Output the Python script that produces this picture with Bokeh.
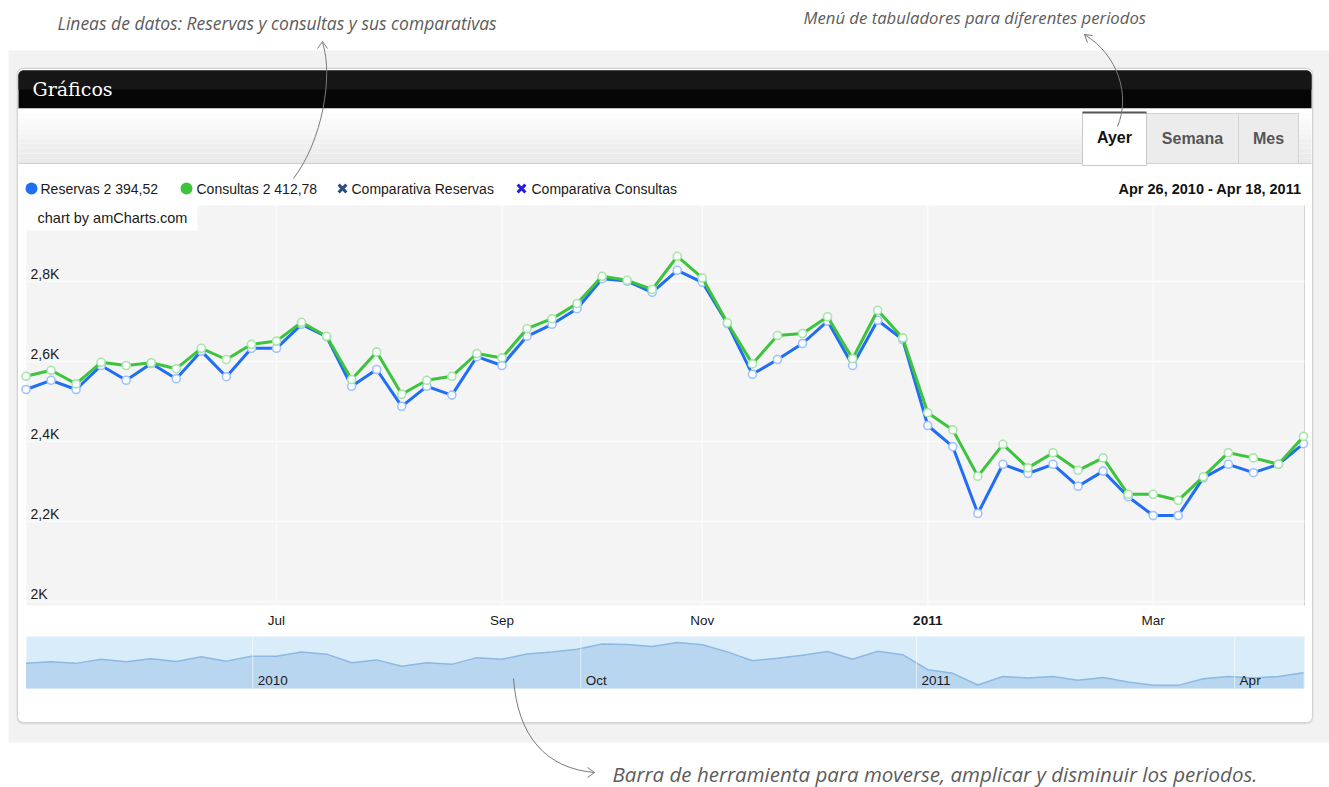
import pandas as pd
from bokeh.plotting import figure
from bokeh.models import Range1d
from bokeh.core.properties import value
from bokeh.embed import file_html
from bokeh.resources import INLINE

# ---------------- data ----------------
week_start = "2010-04-26"
reservas = [2530, 2553, 2530, 2590, 2553, 2595, 2557, 2626, 2562, 2633,
            2633, 2693, 2662, 2538, 2580, 2488, 2538, 2516, 2612, 2590,
            2663, 2693, 2732, 2807, 2801, 2773, 2828, 2798, 2695, 2568,
            2605, 2645, 2701, 2590, 2703, 2655, 2440, 2387, 2220, 2343,
            2320, 2343, 2288, 2326, 2262, 2215, 2215, 2309, 2343, 2322,
            2343, 2394.52]
consultas = [2563, 2578, 2544, 2598, 2590, 2597, 2582, 2633, 2605, 2643,
             2651, 2698, 2663, 2555, 2624, 2518, 2553, 2563, 2620, 2609,
             2682, 2707, 2745, 2813, 2803, 2780, 2863, 2809, 2697, 2594,
             2665, 2670, 2712, 2607, 2728, 2659, 2472, 2429, 2313, 2393,
             2334, 2372, 2328, 2359, 2268, 2268, 2253, 2312, 2372, 2359,
             2343, 2412.78]
y_ticks = [2000, 2200, 2400, 2600, 2800]
y_tick_labels = ["2K", "2,2K", "2,4K", "2,6K", "2,8K"]
x_tick_months = ["2010-07", "2010-09", "2010-11", "2011-01", "2011-03"]
x_tick_labels = ["Jul", "Sep", "Nov", "2011", "Mar"]
nav_tick_pos = [9.05, 22.15, 35.55, 48.25]
nav_tick_labels = ["2010", "Oct", "2011", "Apr"]
series_names = ["Reservas", "Consultas", "Comparativa Reservas", "Comparativa Consultas"]
tabs = ["Ayer", "Semana", "Mes"]
notes = ["Lineas de datos: Reservas y consultas y sus comparativas",
         "Menú de tabuladores para diferentes periodos",
         "Barra de herramienta para moverse, amplicar y disminuir los periodos."]

weeks = pd.date_range(week_start, periods=len(reservas), freq="7D")
idx = list(range(len(reservas)))
x_tick_idx = [next(i for i, d in enumerate(weeks) if d.strftime("%Y-%m") == m) for m in x_tick_months]


def fmt(v):
    return f"{v:,.2f}".replace(",", " ").replace(".", ",")


def fdate(d):
    return f"{d:%b} {d.day}, {d.year}"


# ---------------- geometry / style ----------------
W, H = 1329, 787
CX0, CX1, CY0, CY1 = 0, W, 0, H
PLOT_L, PLOT_R, PLOT_T, PLOT_B = 26, 1304, 205, 605
IDX0_PX, IDXN_PX = 25.5, 1303
Y_LO, Y_HI = 1990, 2990
NAV_T, NAV_B = 636, 688
NAV_LO, NAV_HI = 2170, 2915

BLUE, BLUE_M = "#1f6ef5", "#9fc2ff"
GREEN, GREEN_M = "#3cc43c", "#a8e6a8"
FONT = value("Liberation Sans")
HAND = value("Open Sans")


def ext_range(v1, p1, v2, p2, pa, pb):
    k = (v2 - v1) / (p2 - p1)
    return Range1d(start=v1 + (pa - p1) * k, end=v1 + (pb - p1) * k)


def px_to_idx(px):
    return (px - IDX0_PX) * (len(idx) - 1) / (IDXN_PX - IDX0_PX)


p = figure(width=W, height=H, x_range=Range1d(CX0, CX1), y_range=Range1d(CY1, CY0),
           x_axis_type=None, y_axis_type=None, output_backend="svg",
           toolbar_location=None, min_border=0, outline_line_color=None,
           background_fill_color="white", border_fill_color="white")
p.extra_x_ranges = {"cx": ext_range(0, IDX0_PX, len(idx) - 1, IDXN_PX, CX0, CX1)}
p.extra_y_ranges = {"cy": ext_range(Y_LO, PLOT_B, Y_HI, PLOT_T, CY1, CY0),
                    "ny": ext_range(NAV_LO, NAV_B, NAV_HI, NAV_T, CY1, CY0)}

# page background band and panel
p.quad(left=8, right=CX1, top=50, bottom=742, fill_color="#f2f2f2", line_color=None)
p.quad(left=16, right=1313, top=67, bottom=724, fill_color="#dedede", line_color=None, border_radius=7)
p.quad(left=17, right=1312, top=68, bottom=722, fill_color="white", line_color="#d2d2d2", border_radius=6)
# header bar
p.quad(left=18, right=1311, top=70, bottom=108, fill_color="#060606", line_color=None,
       border_radius=[5, 5, 0, 0])
p.quad(left=18, right=1311, top=70, bottom=89, fill_color="#161616", line_color=None,
       border_radius=[5, 5, 0, 0])
p.text(x=[32], y=[88], text=["Gráficos"], text_font=value("DejaVu Serif"),
       text_font_size="19px", text_color="white", text_baseline="middle")
# tab bar gradient
n_bands = 11
for b in range(n_bands):
    t = b / (n_bands - 1)
    c = int(255 - t * 22)
    p.quad(left=18, right=1311, top=108 + b * 5, bottom=108 + (b + 1) * 5,
           fill_color=f"#{c:02x}{c:02x}{c:02x}", line_color=None)
p.segment(x0=[18], x1=[1311], y0=[163], y1=[163], line_color="#cfcfcf", line_width=1)
# tabs
tab_l = [1082, 1146, 1238]
tab_r = [1146, 1238, 1298]
p.quad(left=tab_l[1:], right=tab_r[1:], top=113, bottom=163, fill_color="#ececec",
       line_color="#d2d2d2")
p.quad(left=tab_l[0], right=tab_r[0], top=112, bottom=165, fill_color="white",
       line_color="#c8c8c8")
p.segment(x0=[tab_l[0]], x1=[tab_r[0]], y0=[112], y1=[112], line_color="#555555", line_width=2)
p.text(x=[(a + b) / 2 for a, b in zip(tab_l, tab_r)], y=[137, 138, 138], text=tabs,
       text_font=FONT, text_font_style="bold", text_font_size="16px",
       text_color=["#111111", "#555555", "#555555"], text_align="center",
       text_baseline="middle")

# legend row
p.scatter(x=[31, 186], y=[188, 188], size=12, marker="circle",
          fill_color=[BLUE, GREEN], line_color=None)
p.scatter(x=[342, 521], y=[188, 188], size=11, marker="x",
          line_color=["#2c4c82", "#2222dd"], line_width=3)
p.text(x=[40, 196, 351, 531], y=[188] * 4,
       text=[f"{series_names[0]} {fmt(reservas[-1])}", f"{series_names[1]} {fmt(consultas[-1])}",
             series_names[2], series_names[3]],
       text_font=FONT, text_font_size="14px", text_color="#1a1a1a", text_baseline="middle")
p.text(x=[1301], y=[188], text=[f"{fdate(weeks[0])} - {fdate(weeks[-1])}"],
       text_font=FONT, text_font_size="14.5px", text_font_style="bold", text_color="#111111",
       text_align="right", text_baseline="middle")

# plot area
p.quad(left=PLOT_L, right=PLOT_R, top=PLOT_T, bottom=PLOT_B, fill_color="#f4f4f4",
       line_color=None)
p.segment(x0=[PLOT_R], x1=[PLOT_R], y0=[PLOT_T], y1=[PLOT_B], line_color="#d4d4d4")
xl, xr = px_to_idx(PLOT_L), px_to_idx(PLOT_R)
p.segment(x0=x_tick_idx, x1=x_tick_idx, y0=Y_LO, y1=Y_HI, line_color="#fbfbfb",
          line_width=1.5, x_range_name="cx", y_range_name="cy")
p.segment(x0=xl, x1=xr, y0=y_ticks, y1=y_ticks, line_color="#fbfbfb", line_width=1.5,
          x_range_name="cx", y_range_name="cy")
p.text(x=[xl] * len(y_ticks), y=y_ticks, text=y_tick_labels, x_offset=4,
       text_font=FONT, text_font_size="14px", text_color="#1a1a1a",
       text_baseline="bottom", x_range_name="cx", y_range_name="cy")
p.quad(left=PLOT_L, right=197, top=PLOT_T, bottom=230, fill_color="white", line_color=None)
p.text(x=[37], y=[217], text=["chart by amCharts.com"], text_font=FONT,
       text_font_size="14.5px", text_color="#1a1a1a", text_baseline="middle")

# data series
for vals, col, mc in [(reservas, BLUE, BLUE_M), (consultas, GREEN, GREEN_M)]:
    p.line(x=idx, y=vals, line_color=col, line_width=3, x_range_name="cx", y_range_name="cy")
    p.scatter(x=idx, y=vals, size=8, marker="circle", fill_color="#fbfdff", line_color=mc,
              line_width=1.6, x_range_name="cx", y_range_name="cy")

# x labels
p.text(x=x_tick_idx, y=[620] * len(x_tick_idx), text=x_tick_labels, text_font=FONT,
       text_font_size="13.5px", text_color="#1a1a1a", text_align="center",
       text_baseline="middle",
       text_font_style=["bold" if l.isdigit() else "normal" for l in x_tick_labels],
       x_range_name="cx")

# navigator
p.quad(left=PLOT_L, right=PLOT_R, top=NAV_T, bottom=NAV_B, fill_color="#d9ecfa", line_color=None)
p.varea(x=idx, y1=NAV_LO, y2=reservas, fill_color="#b9d6f0", x_range_name="cx", y_range_name="ny")
p.line(x=idx, y=reservas, line_color="#8db8e2", line_width=1.5, x_range_name="cx", y_range_name="ny")
p.segment(x0=nav_tick_pos, x1=nav_tick_pos, y0=NAV_T, y1=NAV_B, line_color="white",
          line_alpha=0.6, x_range_name="cx")
p.text(x=nav_tick_pos, y=[680] * len(nav_tick_pos), text=nav_tick_labels, x_offset=5,
       text_font=FONT, text_font_size="13.5px", text_color="#1a1a1a", text_baseline="middle",
       x_range_name="cx")

# handwritten notes and arrows
p.text(x=[57, 803, 612], y=[22, 17, 773], text=notes, text_font=HAND, text_font_style="italic",
       text_font_size=["17.5px", "16.7px", "20.5px"], text_color="#5c5c5c", text_baseline="middle")
p.bezier(x0=[293, 1117, 513], y0=[178, 126, 678], x1=[322, 1084, 594], y1=[42, 34, 772],
         cx0=[322, 1130, 517], cy0=[140, 95, 735], cx1=[333, 1118, 545], cy1=[75, 55, 768],
         line_color="#7a7a7a", line_width=1)
p.segment(x0=[322, 322, 1084, 1084, 594, 594], y0=[41, 41, 34, 34, 772, 772],
          x1=[317, 327, 1092, 1087, 587, 587], y1=[48, 48, 35, 42, 767, 777],
          line_color="#7a7a7a", line_width=1)

open("out.html", "w").write(file_html(p, INLINE))
